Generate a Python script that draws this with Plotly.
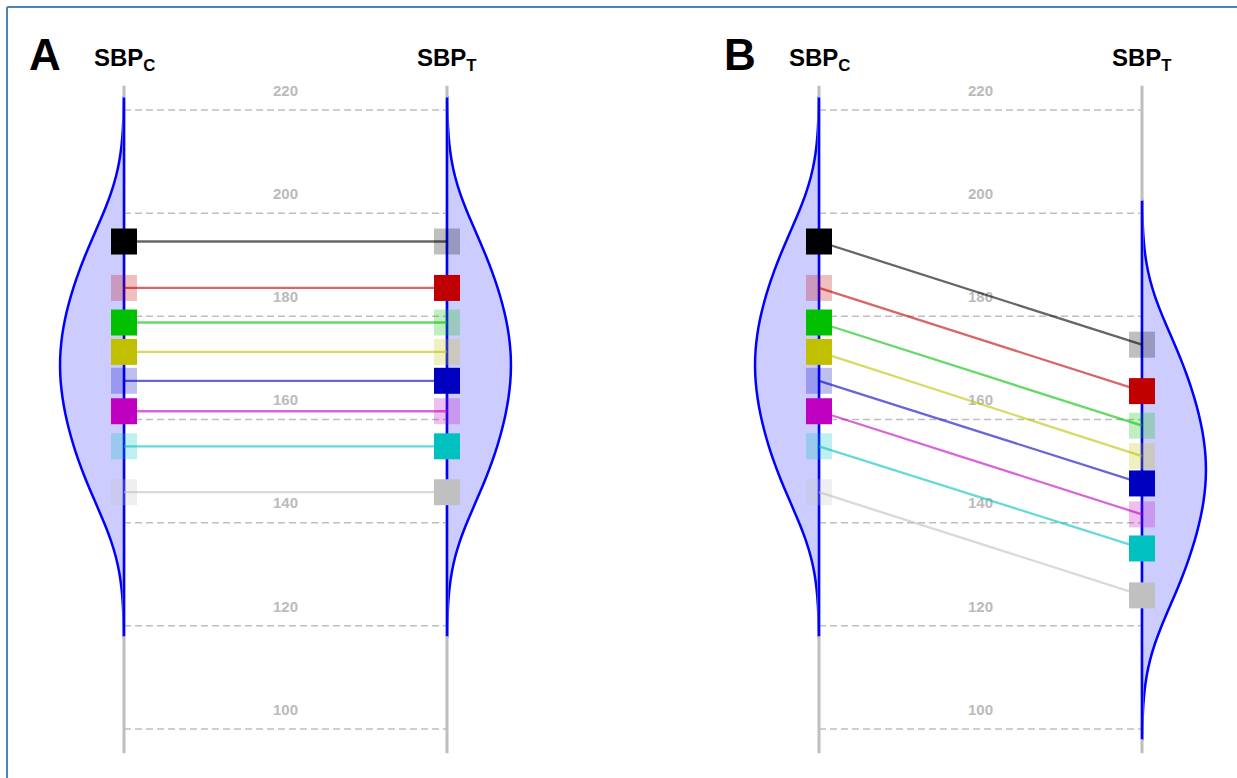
import plotly.graph_objects as go

# --- data -------------------------------------------------------------
subject_colors = ["#000000", "#C00000", "#00C000", "#C0C000",
                  "#0000C0", "#C000C0", "#00C0C0", "#C0C0C0"]
# potential outcome under control
sbp_control = [194.5, 185.5, 178.8, 173.1, 167.5, 161.6, 154.8, 145.9]
# potential outcome under treatment, panel A (no effect)
sbp_treat_a = [194.5, 185.5, 178.8, 173.1, 167.5, 161.6, 154.8, 145.9]
# potential outcome under treatment, panel B (lowered)
sbp_treat_b = [174.5, 165.5, 158.8, 152.9, 147.6, 141.6, 135.0, 125.9]
# which arm each subject was actually observed in
observed_arm = ["C", "T", "C", "C", "T", "C", "T", "T"]
grid_ticks = [100, 120, 140, 160, 180, 200, 220]
axis_span = [95.3, 224.7]
kde_bandwidth = 9.3

# --- style ------------------------------------------------------------
GRID_COL = "#BEBEBE"
VIOLIN_LINE = "#0000FF"
VIOLIN_FILL = "rgba(0,0,255,0.2)"
POS_C, POS_T = 1, 2
FONT = "Liberation Sans, Arial, sans-serif"


def rgba(hex_col, a):
    h = hex_col.lstrip("#")
    r, g, b = int(h[0:2], 16), int(h[2:4], 16), int(h[4:6], 16)
    return f"rgba({r},{g},{b},{a})"


def kde_span(vals):
    # density drawn three bandwidths beyond the outermost values
    return [min(vals) - 3 * kde_bandwidth, max(vals) + 3 * kde_bandwidth]


fig = go.Figure()


def draw_panel(xa, control, treat):
    # dashed reference lines between the two axes
    gx, gy = [], []
    for t in grid_ticks:
        gx += [POS_C, POS_T, None]
        gy += [t, t, None]
    fig.add_trace(go.Scatter(x=gx, y=gy, mode="lines", xaxis=xa, yaxis="y",
                             line=dict(color=GRID_COL, width=1.5, dash="7px,4px"),
                             hoverinfo="skip", showlegend=False))
    # tick labels sit just above each reference line
    fig.add_trace(go.Scatter(x=[(POS_C + POS_T) / 2] * len(grid_ticks),
                             y=[t + 3.5 for t in grid_ticks],
                             text=[str(t) for t in grid_ticks], mode="text",
                             xaxis=xa, yaxis="y",
                             textfont=dict(family=FONT, size=15, color="#BBBBBB", weight="bold"),
                             hoverinfo="skip", showlegend=False))
    # grey vertical axes
    fig.add_trace(go.Scatter(x=[POS_C, POS_C, None, POS_T, POS_T],
                             y=[axis_span[0], axis_span[1], None, axis_span[0], axis_span[1]],
                             mode="lines", xaxis=xa, yaxis="y",
                             line=dict(color=GRID_COL, width=3),
                             hoverinfo="skip", showlegend=False))
    # half violins: control to the left, treatment to the right
    for vals, pos, side in [(control, POS_C, "negative"), (treat, POS_T, "positive")]:
        span = kde_span(vals)
        fig.add_trace(go.Violin(y=vals, x0=pos, xaxis=xa, yaxis="y", side=side,
                                bandwidth=kde_bandwidth, spanmode="manual", span=span,
                                width=0.396, points=False,
                                line=dict(color=VIOLIN_LINE, width=2.5),
                                fillcolor=VIOLIN_FILL, hoverinfo="skip",
                                showlegend=False))
        # flat edge of the half violin, along the axis
        fig.add_trace(go.Scatter(x=[pos, pos], y=span, mode="lines",
                                 xaxis=xa, yaxis="y",
                                 line=dict(color=VIOLIN_LINE, width=2.5),
                                 hoverinfo="skip", showlegend=False))
    # connecting segments per subject
    for c, t, col in zip(control, treat, subject_colors):
        fig.add_trace(go.Scatter(x=[POS_C, POS_T], y=[c, t], mode="lines",
                                 xaxis=xa, yaxis="y",
                                 line=dict(color=rgba(col, 0.6), width=2.3),
                                 hoverinfo="skip", showlegend=False))
    # squares: solid where observed, faded for the counterfactual
    for vals, pos, arm in [(control, POS_C, "C"), (treat, POS_T, "T")]:
        cols = [rgba(col, 1.0 if obs == arm else 0.25)
                for col, obs in zip(subject_colors, observed_arm)]
        fig.add_trace(go.Scatter(x=[pos] * len(vals), y=vals, mode="markers",
                                 xaxis=xa, yaxis="y",
                                 marker=dict(symbol="square", size=26, color=cols,
                                             line=dict(width=0)),
                                 hoverinfo="skip", showlegend=False))


draw_panel("x", sbp_control, sbp_treat_a)
draw_panel("x2", sbp_control, sbp_treat_b)

# headings
title_font = dict(family="Liberation Sans Narrow, Arial Narrow, Liberation Sans, Arial",
                  size=24, color="#000000")
for xref in ["x", "x2"]:
    fig.add_annotation(x=POS_C, xref=xref, y=0.923, yref="paper",
                       text="<b>SBP<sub>C</sub></b>", showarrow=False,
                       font=title_font, xanchor="center", yanchor="middle")
    fig.add_annotation(x=POS_T, xref=xref, y=0.923, yref="paper",
                       text="<b>SBP<sub>T</sub></b>", showarrow=False,
                       font=title_font, xanchor="center", yanchor="middle")
for letter, px in [("A", 44.5), ("B", 740)]:
    fig.add_annotation(x=px / 1237, xref="paper", y=1 - 54 / 778, yref="paper",
                       text=f"<b>{letter}</b>", showarrow=False,
                       font=dict(family=FONT, size=44, color="#000000"),
                       xanchor="center", yanchor="middle")

# thin frame on the top and left edges
frame = dict(color="#4F81BD", width=2)
fig.add_shape(type="line", xref="paper", yref="paper",
              x0=7 / 1237, x1=1, y0=1 - 7 / 778, y1=1 - 7 / 778, line=frame)
fig.add_shape(type="line", xref="paper", yref="paper",
              x0=7 / 1237, x1=7 / 1237, y0=0, y1=1 - 7 / 778, line=frame)

hidden = dict(visible=False, showgrid=False, zeroline=False, fixedrange=True)
fig.update_layout(
    width=1237, height=778, autosize=False,
    margin=dict(l=0, r=0, t=0, b=0),
    paper_bgcolor="white", plot_bgcolor="white",
    violinmode="overlay",
    xaxis=dict(domain=[0, 0.5], range=[1 - 124 / 323, 1 + 494.5 / 323], **hidden),
    xaxis2=dict(domain=[0.5, 1], range=[1 - 200.5 / 323, 1 + 418 / 323], **hidden),
    yaxis=dict(domain=[0, 1], range=[90.5, 241.32], **hidden),
    showlegend=False,
)

fig.write_html("out.html")
